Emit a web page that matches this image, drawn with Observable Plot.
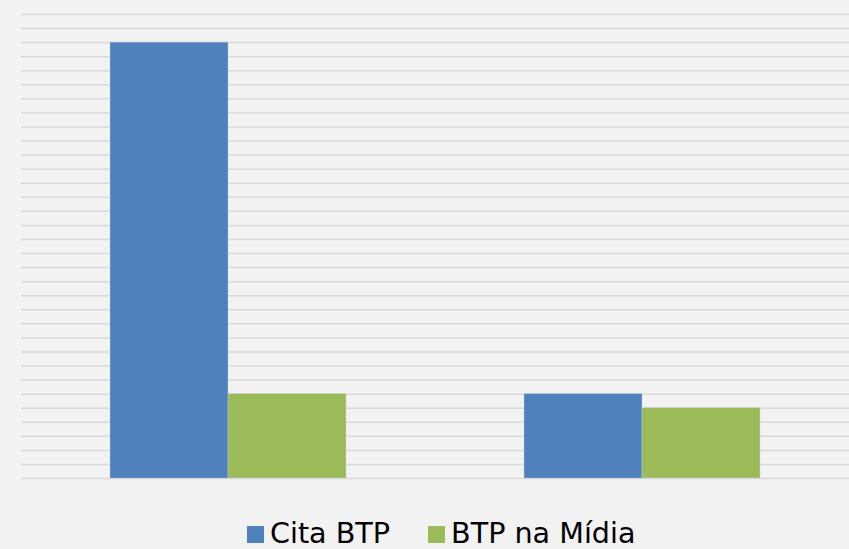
<!DOCTYPE html>
<html>
<head>
<meta charset="utf-8">
<script src="https://cdn.jsdelivr.net/npm/d3@7"></script>
<script src="https://cdn.jsdelivr.net/npm/@observablehq/plot@0.6"></script>
<style>
  html, body { margin: 0; padding: 0; background: #f2f2f2; width: 849px; height: 549px; overflow: hidden; }
  #chart { position: absolute; left: 0; top: 0; }
  #legend { position: absolute; left: 247px; top: 516px; display: flex; align-items: center; font-family: "DejaVu Sans", sans-serif; font-size: 28.6px; color: #000; }
  .item { display: flex; align-items: center; }
  .sw { width: 17px; height: 17px; margin-right: 6px; margin-top: 2px; }
</style>
</head>
<body>
<div id="chart"></div>
<div id="legend"></div>
<script>
const groups = ["Grupo 1", "Grupo 2"];
const series = ["Cita BTP", "BTP na Mídia"];
const citaBTP = [31, 6];
const btpNaMidia = [6, 5];
const colors = ["#4f81bd", "#9bbb59"];
const yMax = 33;

const table = [];
groups.forEach((g, i) => {
  table.push({group: g, series: series[0], value: citaBTP[i]});
  table.push({group: g, series: series[1], value: btpNaMidia[i]});
});

const gridValues = d3.range(0, yMax + 1);

const chart = Plot.plot({
  width: 849,
  height: 490,
  marginLeft: 21,
  marginRight: 0,
  marginTop: 14,
  marginBottom: 12,
  style: {background: "#f2f2f2", overflow: "visible"},
  facet: {data: table, x: "group"},
  fx: {domain: groups, paddingInner: 0, paddingOuter: 0, axis: null, label: null},
  x: {domain: series, paddingInner: 0, paddingOuter: 0.754, axis: null, label: null},
  y: {domain: [0, yMax], axis: null},
  color: {domain: series, range: colors},
  marks: [
    Plot.ruleY(gridValues, {stroke: "#d9d9d9", strokeWidth: 1.5}),
    Plot.barY(table, {x: "series", y: "value", fill: "series", stroke: "#c8d6e8", strokeWidth: 0.6, strokeOpacity: 0.6})
  ]
});
document.getElementById("chart").appendChild(chart);

const legend = document.getElementById("legend");
series.forEach((s, i) => {
  const item = document.createElement("div");
  item.className = "item";
  if (i > 0) item.style.marginLeft = "38px";
  const sw = document.createElement("div");
  sw.className = "sw";
  sw.style.background = colors[i];
  const t = document.createElement("span");
  t.textContent = s;
  item.appendChild(sw);
  item.appendChild(t);
  legend.appendChild(item);
});
</script>
</body>
</html>
